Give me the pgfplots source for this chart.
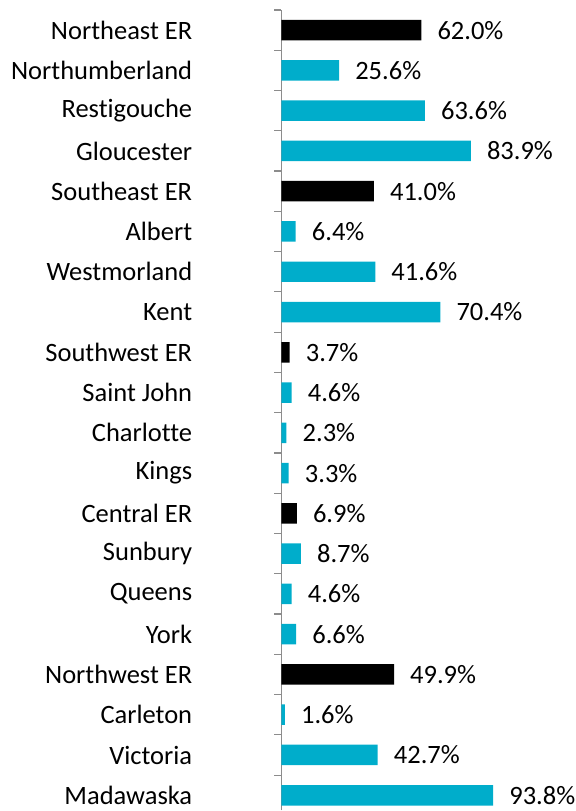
\documentclass[border=0pt]{standalone}
\usepackage{pgfplots}
\pgfplotsset{compat=1.18}
\usepackage{fontspec}
\setmainfont{Carlito}[Ligatures=NoCommon]
\definecolor{barcyan}{RGB}{0,173,203}
\definecolor{axgray}{RGB}{140,140,140}
\begin{document}
\begin{tikzpicture}
\begin{axis}[
  scale only axis,
  width=297.5pt, height=801pt,
  xmin=0, xmax=131.6,
  ymin=-0.376, ymax=19.5,
  axis x line=none,
  axis y line*=left,
  axis line style={-, axgray, line width=1.2pt},
  ytick={0,...,19},
  yticklabels={Madawaska,Victoria,Carleton,Northwest ER,York,Queens,Sunbury,Central ER,Kings,Charlotte,Saint John,Southwest ER,Kent,Westmorland,Albert,Southeast ER,Gloucester,Restigouche,Northumberland,Northeast ER},
  major tick length=0pt,
  yticklabel style={font=\fontsize{26.5}{31}\selectfont, inner sep=0pt, xshift=-89pt},
  extra y ticks={0.5,1.5,2.5,3.5,4.5,5.5,6.5,7.5,8.5,9.5,10.5,11.5,12.5,13.5,14.5,15.5,16.5,17.5,18.5,19.5},
  extra y tick labels={},
  extra y tick style={major tick length=7pt, tick align=outside, tick style={axgray, line width=1.2pt}},
  /pgf/number format/assume math mode=true,
  xbar, bar width=20.5pt, bar shift=0pt,
  point meta=x,
  nodes near coords={\pgfmathprintnumber[fixed,fixed zerofill,precision=1]{\pgfplotspointmeta}\%},
  every node near coord/.append style={font=\fontsize{26.5}{31}\selectfont, anchor=west, inner sep=0pt, xshift=16pt, text=black},
  clip=false,
]
\addplot[fill=black, draw=none] coordinates {
 (62.0,19) (41.0,15) (3.7,11) (6.9,7) (49.9,3)
};
\addplot[fill=barcyan, draw=none] coordinates {
 (25.6,18) (63.6,17) (83.9,16)
 (6.4,14) (41.6,13) (70.4,12)
 (4.6,10) (2.3,9) (3.3,8)
 (8.7,6) (4.6,5) (6.6,4)
 (1.6,2) (42.7,1) (93.8,0)
};
\path (rel axis cs:0,1) ++(-281.5pt,10pt);
\end{axis}
\end{tikzpicture}
\end{document}
